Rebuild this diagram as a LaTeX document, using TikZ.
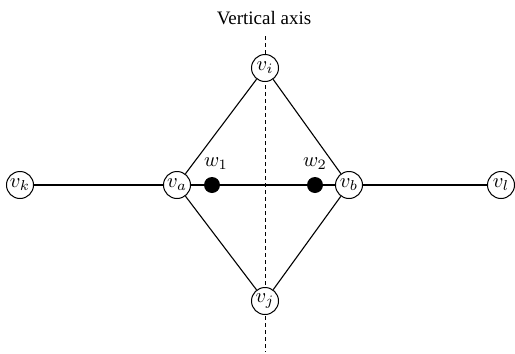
\documentclass[tikz,border=0pt]{standalone}
\usepackage{fontspec}
\setmainfont{Liberation Serif}
\newcommand{\vlabel}[1]{\scalebox{2.05}{$#1$}}
\begin{document}
\begin{tikzpicture}[x=1pt,y=-1pt,
  vert/.style={circle,draw,line width=1pt,minimum size=27pt,inner sep=0pt,fill=white},
  wdot/.style={circle,fill=black,minimum size=16pt,inner sep=0pt},
  edge/.style={line width=1.1pt},
  axis/.style={line width=0.8pt,dash pattern=on 4pt off 3pt}]
\useasboundingbox (0,0) rectangle (515,354);
\node[font=\fontsize{19}{19}\selectfont] (title) at (264,18) {Vertical axis};
\coordinate (top) at (265,36);
\coordinate (bot) at (265,352);
\draw[axis] (top) -- (bot);
\node[vert] (vi) at (265,68) {\vlabel{v_i}};
\node[vert] (vj) at (265,301) {\vlabel{v_j}};
\node[vert] (va) at (177,185) {\vlabel{v_a}};
\node[vert] (vb) at (349,185) {\vlabel{v_b}};
\node[vert] (vk) at (20,185) {\vlabel{v_k}};
\node[vert] (vl) at (501,185) {\vlabel{v_l}};
\node[wdot] (w1) at (212,185) {};
\node[wdot] (w2) at (315,185) {};
\node (l1) at (216,164) {\vlabel{w_1}};
\node (l2) at (315,164) {\vlabel{w_2}};
\draw[edge] (va) -- (vi) -- (vb) -- (vj) -- (va);
\draw[edge] (vk) -- (va) -- (w1) -- (w2) -- (vb) -- (vl);
\end{tikzpicture}
\end{document}
